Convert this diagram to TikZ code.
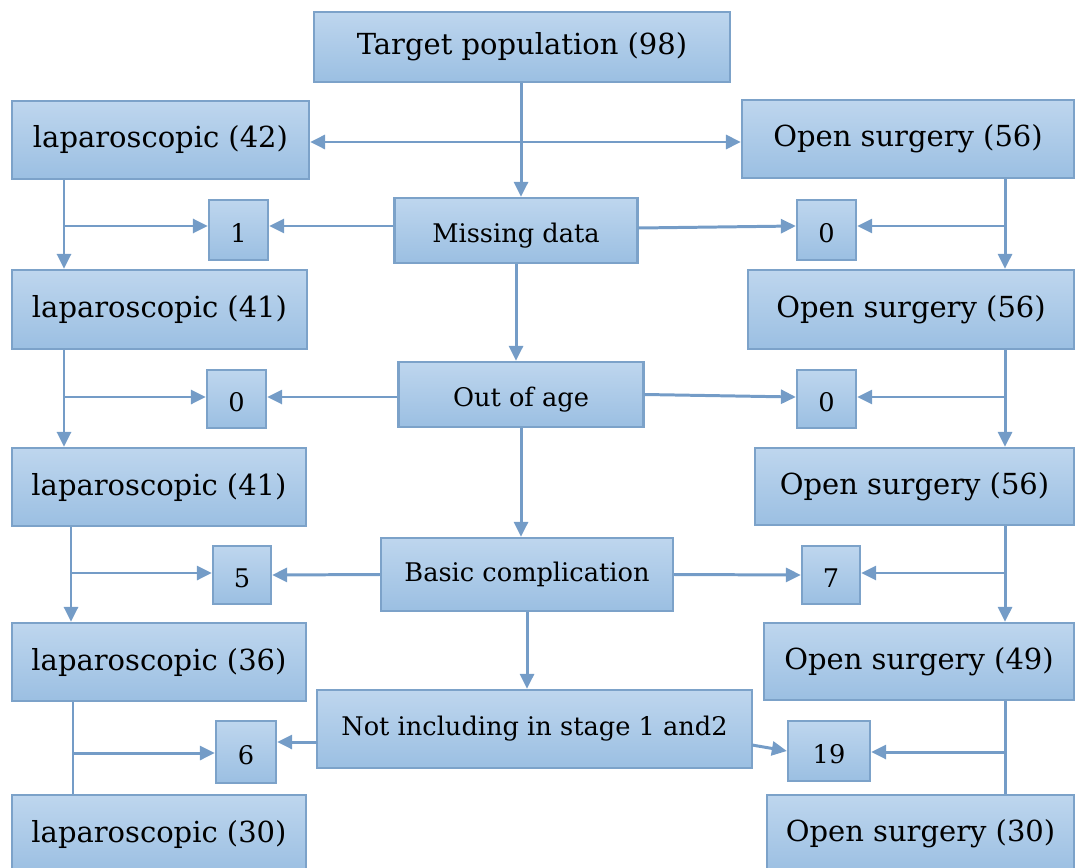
\documentclass[tikz,border=0pt]{standalone}
\usepackage{fontspec}
\setmainfont{DejaVu Serif}
\usepackage{tikz}
\usetikzlibrary{arrows.meta, positioning, shadings}

\definecolor{boxtop}{RGB}{190,214,238}
\definecolor{boxbot}{RGB}{155,191,226}
\definecolor{boxline}{RGB}{124,162,201}
\definecolor{linkcol}{RGB}{116,156,199}

\begin{document}
\begin{tikzpicture}[
    x=0.02cm, y=-0.02cm,
    box/.style={rectangle, draw=boxline, line width=1.3pt, top color=boxtop,
                bottom color=boxbot, inner sep=0pt, align=center,
                font=\fontsize{16.5}{19}\selectfont},
    midbox/.style={box, font=\fontsize{14.6}{17}\selectfont},
    lowtext/.style={text height=0.5cm, text depth=0pt},
    countbox/.style={box, lowtext, font=\fontsize{14.6}{17}\selectfont},
    arrow/.style={-{Triangle[length=0.3cm, width=0.28cm]}, draw=linkcol,
                  fill=linkcol, line width=1.7pt},
    link/.style={draw=linkcol, line width=1.7pt}
]
  \useasboundingbox (0,0) rectangle (1078,868);

  % top of the chart
  \node[box, minimum width=8.32cm, minimum height=1.4cm] (target) at (522,47)
    {Target population (98)};
  \node[box, minimum width=5.94cm, minimum height=1.56cm] (lap42) at (160.5,140)
    {laparoscopic (42)};
  \node[box, minimum width=6.64cm, minimum height=1.56cm] (open56a) at (908,139)
    {Open surgery (56)};

  % missing data
  \node[midbox, lowtext, minimum width=4.86cm, minimum height=1.3cm] (missing) at (516,230.5)
    {Missing data};
  \node[countbox, minimum width=1.18cm, minimum height=1.2cm] (one) at (238.5,230) {1};
  \node[countbox, minimum width=1.18cm, minimum height=1.2cm] (zeroA) at (826.5,230) {0};
  \node[box, minimum width=5.9cm, minimum height=1.58cm] (lap41a) at (159.5,309.5)
    {laparoscopic (41)};
  \node[box, minimum width=6.52cm, minimum height=1.58cm] (open56b) at (911,309.5)
    {Open surgery (56)};

  % out of age
  \node[midbox, lowtext, minimum width=4.9cm, minimum height=1.3cm] (outage) at (521,394.5)
    {Out of age};
  \node[countbox, minimum width=1.18cm, minimum height=1.16cm] (zeroB) at (236.5,399) {0};
  \node[countbox, minimum width=1.18cm, minimum height=1.16cm] (zeroC) at (826.5,399) {0};
  \node[box, minimum width=5.88cm, minimum height=1.56cm] (lap41b) at (159,487)
    {laparoscopic (41)};
  \node[box, minimum width=6.38cm, minimum height=1.54cm] (open56c) at (914.5,486.5)
    {Open surgery (56)};

  % basic complication
  \node[midbox, minimum width=5.84cm, minimum height=1.46cm] (basic) at (527,574.5)
    {Basic complication};
  \node[countbox, minimum width=1.16cm, minimum height=1.16cm] (five) at (242,575) {5};
  \node[countbox, minimum width=1.16cm, minimum height=1.16cm] (seven) at (831,575) {7};
  \node[box, minimum width=5.88cm, minimum height=1.56cm] (lap36) at (159,662)
    {laparoscopic (36)};
  \node[box, minimum width=6.2cm, minimum height=1.54cm] (open49) at (919,661.5)
    {Open surgery (49)};

  % not including
  \node[midbox, minimum width=8.7cm, minimum height=1.56cm] (notincl) at (534.5,729)
    {Not including in stage 1 and2};
  \node[countbox, minimum width=1.2cm, minimum height=1.24cm] (six) at (246,752) {6};
  \node[countbox, minimum width=1.64cm, minimum height=1.2cm] (nineteen) at (829,751) {19};
  \node[box, minimum width=5.88cm, minimum height=1.56cm] (lap30) at (159,834)
    {laparoscopic (30)};
  \node[box, minimum width=6.14cm, minimum height=1.56cm] (open30) at (920.5,834)
    {Open surgery (30)};

  % split points
  \coordinate (tsplit) at (521,142);
  \coordinate (l1) at (64,226);
  \coordinate (l2) at (64,397);
  \coordinate (l3) at (71,573);
  \coordinate (l4) at (73,753);
  \coordinate (r1) at (1005,226);
  \coordinate (r2) at (1005,397);
  \coordinate (r3) at (1005,573);
  \coordinate (r4) at (1005,752);
  \coordinate (n1) at (317,742);
  \coordinate (n2) at (752,745);

  % centre column
  \draw[arrow] (target.south -| tsplit) -- (missing.north -| tsplit);
  \draw[arrow] (tsplit) -- (lap42.east |- tsplit);
  \draw[arrow] (tsplit) -- (open56a.west |- tsplit);
  \draw[arrow] (missing.south) -- (outage.north -| missing.south);
  \draw[arrow] (outage.south) -- (basic.north -| outage.south);
  \draw[arrow] (basic.south) -- (notincl.north -| basic.south);

  % centre to counts
  \draw[arrow] (missing.west |- l1) -- (one.east |- l1);
  \draw[arrow] ([yshift=0.05cm]missing.east) -- (zeroA.west |- r1);
  \draw[arrow] (outage.west |- l2) -- (zeroB.east |- l2);
  \draw[arrow] (outage.east) -- (zeroC.west |- r2);
  \draw[arrow] (basic.west) -- (five.east);
  \draw[arrow] (basic.east) -- (seven.west);
  \draw[arrow] (n1) -- (six.east |- n1);
  \draw[arrow] (n2) -- (nineteen.west);

  % left column
  \draw[arrow] (lap42.south -| l1) -- (lap41a.north -| l1);
  \draw[arrow] (l1) -- (one.west |- l1);
  \draw[arrow] (lap41a.south -| l2) -- (lap41b.north -| l2);
  \draw[arrow] (l2) -- (zeroB.west |- l2);
  \draw[arrow] (lap41b.south -| l3) -- (lap36.north -| l3);
  \draw[arrow] (l3) -- (five.west |- l3);
  \draw[link] (lap36.south -| l4) -- (lap30.north -| l4);
  \draw[arrow] (l4) -- (six.west |- l4);

  % right column
  \draw[arrow] (open56a.south -| r1) -- (open56b.north -| r1);
  \draw[arrow] (r1) -- (zeroA.east |- r1);
  \draw[arrow] (open56b.south -| r2) -- (open56c.north -| r2);
  \draw[arrow] (r2) -- (zeroC.east |- r2);
  \draw[arrow] (open56c.south -| r3) -- (open49.north -| r3);
  \draw[arrow] (r3) -- (seven.east |- r3);
  \draw[link] (open49.south -| r4) -- (open30.north -| r4);
  \draw[arrow] (r4) -- (nineteen.east |- r4);
\end{tikzpicture}
\end{document}
